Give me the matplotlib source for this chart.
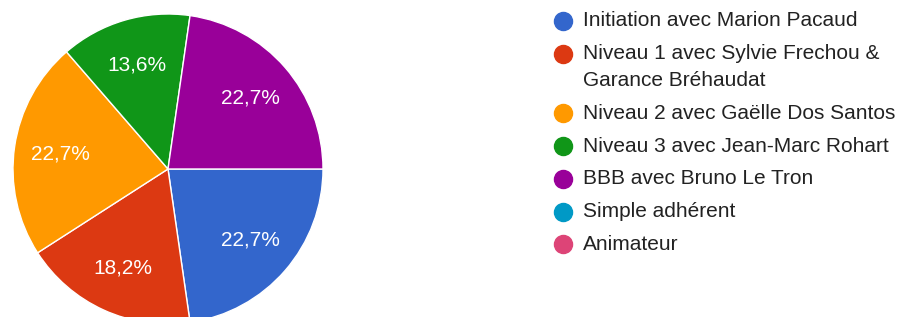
import matplotlib
matplotlib.use("Agg")
import matplotlib.pyplot as plt

# data (counts out of 22 answers)
categories = [
    "Initiation avec Marion Pacaud",
    "Niveau 1 avec Sylvie Frechou &\nGarance Bréhaudat",
    "Niveau 2 avec Gaëlle Dos Santos",
    "Niveau 3 avec Jean-Marc Rohart",
    "BBB avec Bruno Le Tron",
    "Simple adhérent",
    "Animateur",
]
counts = [5, 4, 5, 3, 5, 0, 0]
colors = ["#3366cc", "#dc3912", "#ff9900", "#109618", "#990099", "#0099c6", "#dd4477"]

plt.rcParams["font.family"] = ["Liberation Sans", "DejaVu Sans"]

W, H = 905, 317
fig = plt.figure(figsize=(W / 100, H / 100), dpi=100)

# pie centre at (168, 169) px, radius 155 px
cx, cy, r = 168, 169, 155
ax = fig.add_axes([(cx - r) / W, (H - cy - r) / H, 2 * r / W, 2 * r / H])

shown = [(c, col) for c, col in zip(counts, colors) if c > 0]
wedges, texts, autotexts = ax.pie(
    [c for c, _ in shown],
    colors=[col for _, col in shown],
    startangle=0,
    counterclock=False,
    radius=1,
    autopct=lambda p: f"{p:.1f}%".replace(".", ","),
    pctdistance=0.7,
    wedgeprops=dict(edgecolor="white", linewidth=1),
    textprops=dict(color="white", fontsize=15),
)
ax.set_xlim(-1, 1)
ax.set_ylim(-1, 1)
ax.set_aspect("equal")
ax.axis("off")

# legend drawn by hand: marker at first line, wrapped lines closer together
y = 21
for label, col in zip(categories, colors):
    lines = label.split("\n")
    fig.lines.append(plt.Line2D([563 / W], [1 - y / H], marker="o", markersize=13,
                                color=col, linestyle="none", transform=fig.transFigure))
    for i, line in enumerate(lines):
        fig.text(583 / W, 1 - (y + i * 27) / H, line, fontsize=15, color="#222222",
                 va="center", ha="left")
    y += 27 * (len(lines) - 1) + 32.7

fig.savefig("out.png", dpi=100)
